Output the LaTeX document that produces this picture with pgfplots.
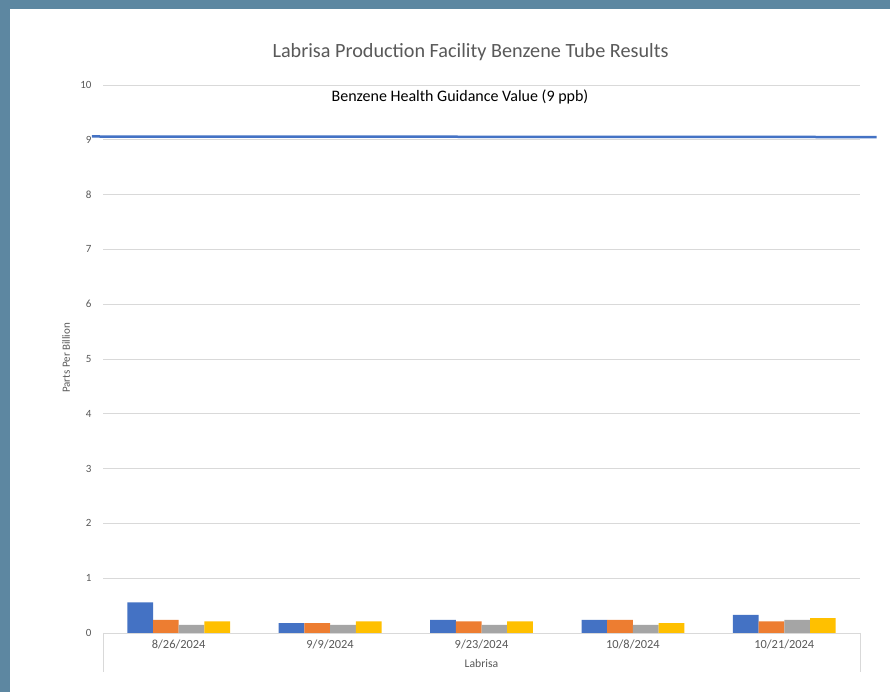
\documentclass[border=0pt]{standalone}
\usepackage{pgfplots}
\pgfplotsset{compat=1.18}
\usepackage{fontspec}
\setmainfont{Carlito}
\definecolor{bgblue}{HTML}{5D87A1}
\definecolor{cBlue}{HTML}{4472C4}
\definecolor{cOrange}{HTML}{ED7D31}
\definecolor{cGray}{HTML}{A5A5A5}
\definecolor{cYellow}{HTML}{FFC000}
\definecolor{gridc}{HTML}{D9D9D9}
\definecolor{txt}{HTML}{595959}
\begin{document}
\begin{tikzpicture}[x=1pt,y=1pt]
\fill[bgblue] (0,0) rectangle (890,692);
\fill[white] (10,0) rectangle (890,683);
\useasboundingbox (0,0) rectangle (890,692);
\node[text=txt,font=\fontsize{20.2}{22}\selectfont] at (470.5,640) {Labrisa Production Facility Benzene Tube Results};
\draw[gridc, line width=0.9pt] (103,59) -- (103,20);
\draw[gridc, line width=0.9pt] (860,59) -- (860,20);
\begin{axis}[
  at={(103pt,59pt)}, anchor=south west,
  scale only axis, width=757pt, height=548pt,
  ybar=0pt, bar width=25.7pt,
  xmin=-0.5, xmax=4.5, ymin=0, ymax=10,
  xtick=data, xticklabels={8/26/2024,9/9/2024,9/23/2024,10/8/2024,10/21/2024},
  ytick={0,1,...,10},
  ymajorgrids, grid style={gridc, line width=0.9pt},
  axis x line*=bottom, axis y line*=left,
  y axis line style={draw=none},
  x axis line style={gridc, line width=0.9pt, -},
  major tick length=0pt,
  /pgf/number format/assume math mode=true,
  yticklabel style={text=txt, font=\fontsize{11}{12}\selectfont, anchor=east, xshift=-8pt},
  xticklabel style={text=txt, font=\fontsize{12.4}{13}\selectfont, yshift=-3pt},
  ylabel={Parts Per Billion}, ylabel style={text=txt, font=\fontsize{11}{12}\selectfont, at={(axis description cs:-0.0489,0.502)}, anchor=center, rotate=0},
  xlabel={Labrisa}, xlabel style={text=txt, font=\fontsize{11.7}{12}\selectfont, at={(axis description cs:0.5,0)}, anchor=center, yshift=-30pt},
  clip=false,
  every axis plot/.append style={draw=none},
]
\addplot[fill=cBlue] coordinates {(0,0.56) (1,0.18) (2,0.24) (3,0.24) (4,0.33)};
\addplot[fill=cOrange] coordinates {(0,0.24) (1,0.18) (2,0.21) (3,0.24) (4,0.21)};
\addplot[fill=cGray] coordinates {(0,0.15) (1,0.15) (2,0.15) (3,0.15) (4,0.24)};
\addplot[fill=cYellow] coordinates {(0,0.21) (1,0.21) (2,0.21) (3,0.18) (4,0.27)};
\end{axis}
\begin{axis}[
  at={(103pt,59pt)}, anchor=south west,
  scale only axis, width=757pt, height=548pt,
  xmin=-0.5, xmax=4.5, ymin=0, ymax=10,
  axis lines=none, clip=false,
]
\addplot[cBlue, line width=2.5pt] coordinates {(-0.573,9.06) (4.61,9.05)};
\end{axis}
\node[font=\fontsize{16}{18}\selectfont] at (460,595) {Benzene Health Guidance Value (9 ppb)};
\end{tikzpicture}
\end{document}
